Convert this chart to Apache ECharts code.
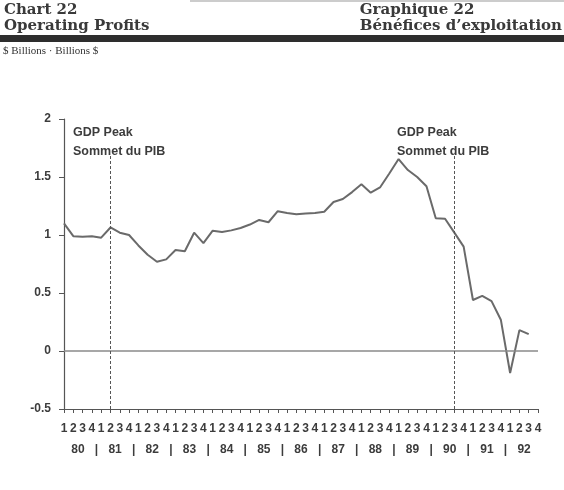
<!DOCTYPE html>
<html>
<head>
<meta charset="utf-8">
<title>Chart 22 - Operating Profits</title>
<script src="https://cdn.jsdelivr.net/npm/echarts@6/dist/echarts.min.js"></script>
<style>
    html, body { margin: 0; padding: 0; background: #fff; }
    #chart { width: 564px; height: 490px; }
</style>
</head>
<body>
<div id="chart"></div>
<script>
    // data: quarterly, 1980 Q1 .. 1992 Q3 (axis runs to 1992 Q4)
    var years = ['80', '81', '82', '83', '84', '85', '86', '87', '88', '89', '90', '91', '92'];
    var quarterNames = ['1', '2', '3', '4'];
    var profits = [
        1.10, 0.99, 0.985, 0.99,        // 80
        0.977, 1.065, 1.02, 1.00,       // 81
        0.91, 0.83, 0.77, 0.79,         // 82
        0.87, 0.86, 1.02, 0.93,         // 83
        1.037, 1.025, 1.04, 1.06,       // 84
        1.09, 1.13, 1.11, 1.205,        // 85
        1.19, 1.178, 1.185, 1.19,       // 86
        1.20, 1.285, 1.31, 1.37,        // 87
        1.437, 1.365, 1.41, 1.53,       // 88
        1.655, 1.56, 1.50, 1.42,        // 89
        1.145, 1.14, 1.02, 0.90,        // 90
        0.44, 0.475, 0.43, 0.27,        // 91
        -0.19, 0.18, 0.145              // 92
    ];
    var gdpPeaks = ['81-2', '90-3'];
    var yMin = -0.5, yMax = 2, yStep = 0.5;

    var quarters = [];
    years.forEach(function (y) {
        quarterNames.forEach(function (q) { quarters.push(y + '-' + q); });
    });

    var gray = '#3c3c3c';
    var sans = 'Liberation Sans';

    var mChart = echarts.init(document.getElementById('chart'));
    var option = {
        backgroundColor: '#fff',
        animation: false,
        grid: { left: 64, right: 26, top: 119, bottom: 81 },
        xAxis: [{
            type: 'category',
            data: quarters,
            boundaryGap: false,
            axisLine: { onZero: false, lineStyle: { color: '#555', width: 1.2 } },
            axisTick: { show: true, interval: 0, length: 4, lineStyle: { color: '#555' } },
            axisLabel: {
                interval: 0, margin: 14,
                fontFamily: sans, fontWeight: 'bold', fontSize: 12, color: gray,
                formatter: function (v) { return v.split('-')[1]; }
            },
            splitLine: { show: false }
        }, {
            // year row under the quarter digits
            type: 'value',
            position: 'bottom',
            min: 0, max: quarters.length - 1, interval: 0.5,
            axisLine: { show: false }, axisTick: { show: false }, splitLine: { show: false },
            axisLabel: {
                margin: 35,
                fontFamily: sans, fontWeight: 'bold', fontSize: 12, color: gray,
                formatter: function (v) {
                    var k = (v - 1.5) / 4;
                    if (Math.abs(k - Math.round(k)) < 1e-6) return years[Math.round(k)] || '';
                    var b = (v - 3.5) / 4;
                    if (Math.abs(b - Math.round(b)) < 1e-6 && b < years.length - 1) return '|';
                    return '';
                }
            }
        }],
        yAxis: {
            type: 'value',
            min: yMin, max: yMax, interval: yStep,
            axisLine: { show: true, lineStyle: { color: '#555', width: 1.2 } },
            axisTick: { show: true, length: 5, lineStyle: { color: '#555' } },
            axisLabel: {
                margin: 13,
                fontFamily: sans, fontWeight: 'bold', fontSize: 12, color: gray
            },
            splitLine: { show: false }
        },
        graphic: [
            { type: 'line', shape: { x1: 190, y1: 1, x2: 564, y2: 1 }, style: { stroke: '#999', lineWidth: 1 } },
            { type: 'text', left: 4, top: 2, style: { text: 'Chart 22\nOperating Profits', font: 'bold 15px "DejaVu Serif"', fill: '#3a3a3a', lineHeight: 16 } },
            { type: 'text', right: 2, top: 2, style: { text: 'Graphique 22\nBénéfices d\u2019exploitation', font: 'bold 15px "DejaVu Serif"', fill: '#3a3a3a', lineHeight: 16, align: 'right' } },
            { type: 'rect', shape: { x: 0, y: 35, width: 564, height: 7 }, style: { fill: '#2e2e2e' } },
            { type: 'text', left: 3, top: 46, style: { text: '$ Billions \u00b7 Billions $', font: '11px "Liberation Serif"', fill: '#333' } },
            { type: 'text', left: 73, top: 123, style: { text: 'GDP Peak\nSommet du PIB', font: 'bold 12.5px "Liberation Sans"', fill: gray, lineHeight: 19 } },
            { type: 'text', left: 397, top: 123, style: { text: 'GDP Peak\nSommet du PIB', font: 'bold 12.5px "Liberation Sans"', fill: gray, lineHeight: 19 } }
        ],
        series: [{
            type: 'line',
            data: profits,
            symbol: 'none',
            lineStyle: { color: '#6a6a6a', width: 2 },
            markLine: {
                silent: true,
                symbol: 'none',
                label: { show: false },
                data: [
                    { yAxis: 0, lineStyle: { color: '#8a8a8a', width: 1.5, type: 'solid' } }
                ].concat(gdpPeaks.map(function (q) {
                    return [
                        { xAxis: q, yAxis: yMin, lineStyle: { color: '#555', width: 1, type: [3, 2] } },
                        { xAxis: q, yAxis: 1.69 }
                    ];
                }))
            }
        }]
    };
    mChart.setOption(option);
</script>
</body>
</html>
